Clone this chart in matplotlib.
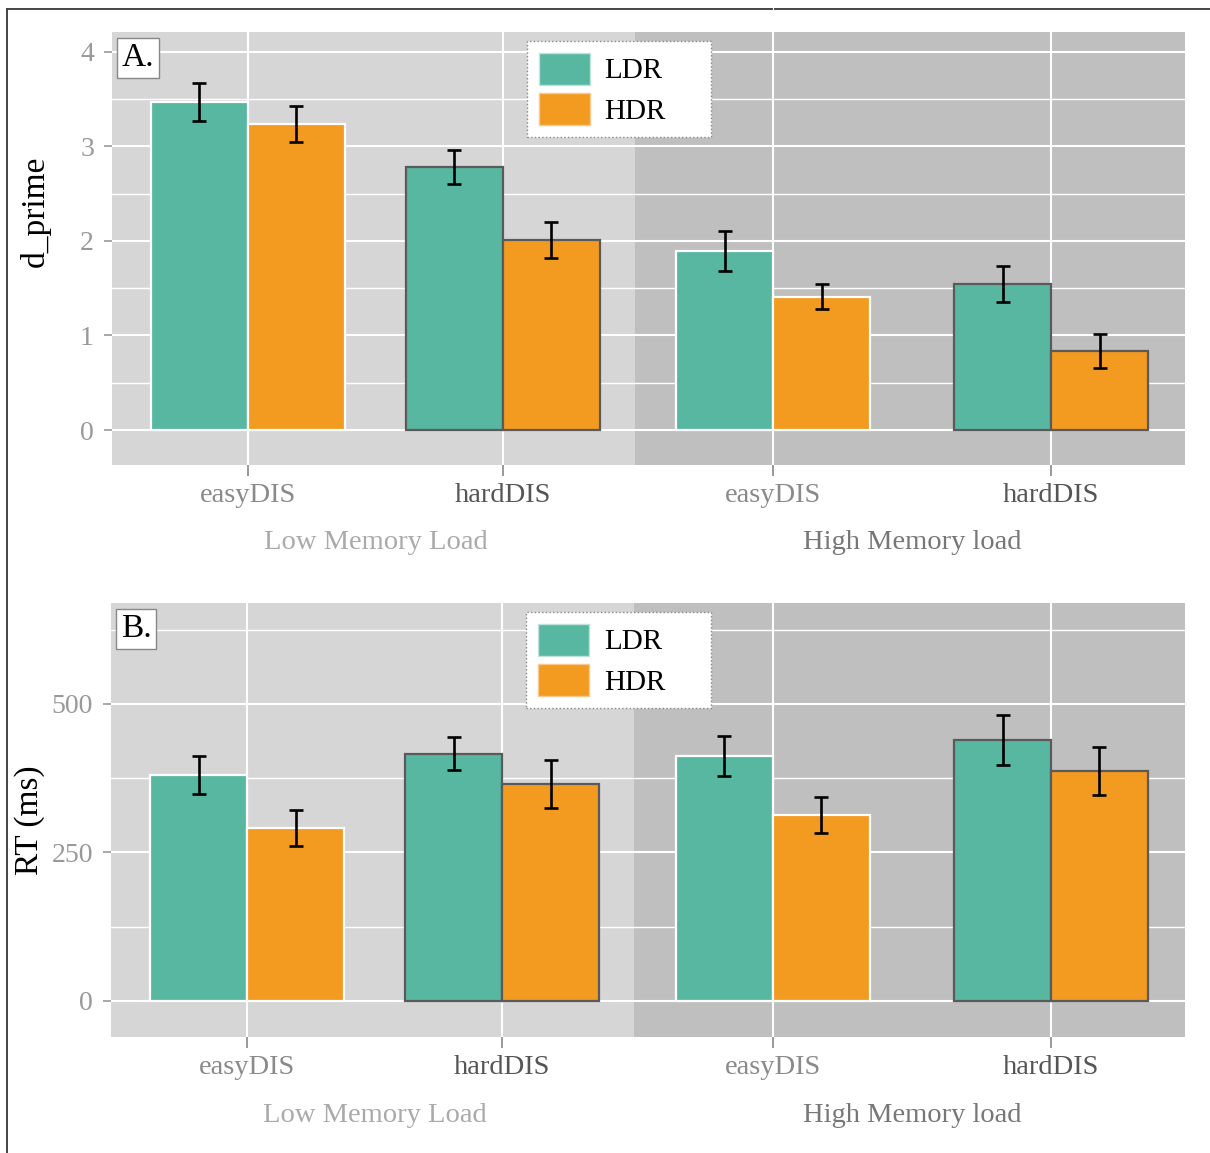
import numpy as np
import matplotlib
matplotlib.use("Agg")
import matplotlib.pyplot as plt
from matplotlib.lines import Line2D
from matplotlib.patches import Patch

plt.rcParams["font.family"] = ["Liberation Serif", "DejaVu Serif"]

# ---- data ----
conditions = ["easyDIS", "hardDIS", "easyDIS", "hardDIS"]
loads = ["Low Memory Load", "High Memory load"]
series = ["LDR", "HDR"]

dprime_ldr = [3.47, 2.78, 1.89, 1.54]
dprime_ldr_se = [0.20, 0.18, 0.21, 0.19]
dprime_hdr = [3.24, 2.01, 1.41, 0.84]
dprime_hdr_se = [0.19, 0.19, 0.13, 0.18]

rt_ldr = [380, 416, 412, 439]
rt_ldr_se = [32, 28, 34, 42]
rt_hdr = [291, 365, 313, 387]
rt_hdr_se = [30, 40, 30, 40]

# ---- styling / layout ----
C_LDR, C_HDR = "#58b7a1", "#f39a21"
BG_LIGHT, BG_DARK = "#d6d6d6", "#bfbfbf"
xpos = np.array([0.0, 1.0, 2.06, 3.15])
BW = 0.38
XLIM = (-0.533, 3.675)
SPLIT = 1.518
edge_cols = ["white", "#5a5a5a", "white", "#5a5a5a"]
tick_cols = ["#8a8a8a", "#555555", "#8a8a8a", "#555555"]
load_cols = ["#aaaaaa", "#777777"]

fig = plt.figure(figsize=(12.1, 11.53), dpi=100)
W, H = 1210, 1153


def panel(rect_px, ldr, ldr_se, hdr, hdr_se, ylim, ticks, minor, ylabel, lab_xy, tag):
    l, r, t, b = rect_px
    ax = fig.add_axes([l / W, (H - b) / H, (r - l) / W, (b - t) / H])
    ax.set_xlim(*XLIM)
    ax.set_ylim(*ylim)
    ax.axvspan(XLIM[0], SPLIT, color=BG_LIGHT, lw=0, zorder=0)
    ax.axvspan(SPLIT, XLIM[1], color=BG_DARK, lw=0, zorder=0)
    for v in ticks:
        ax.axhline(v, color="white", lw=1.5, zorder=0.5)
    for v in minor:
        ax.axhline(v, color="white", lw=1.0, zorder=0.5)
    for x in xpos:
        ax.axvline(x, color="white", lw=1.5, zorder=0.5)

    for i in range(4):
        ax.bar(xpos[i] - BW / 2, ldr[i], BW, color=C_LDR, edgecolor=edge_cols[i], lw=1.6, zorder=2)
        ax.bar(xpos[i] + BW / 2, hdr[i], BW, color=C_HDR, edgecolor=edge_cols[i], lw=1.6, zorder=2)
    ax.errorbar(xpos - BW / 2, ldr, yerr=ldr_se, fmt="none", ecolor="black", elinewidth=1.9,
                capsize=4.8, capthick=1.9, zorder=3)
    ax.errorbar(xpos + BW / 2, hdr, yerr=hdr_se, fmt="none", ecolor="black", elinewidth=1.9,
                capsize=4.8, capthick=1.9, zorder=3)

    for s in ax.spines.values():
        s.set_visible(False)
    ax.set_yticks(ticks)
    ax.set_yticklabels([str(v) for v in ticks])
    ax.tick_params(axis="y", colors="#999999", labelsize=20, length=6, width=1.2, pad=7)
    ax.set_xticks(xpos)
    ax.set_xticklabels(conditions)
    ax.tick_params(axis="x", colors="#888888", labelsize=20.5, length=8, width=1.2, pad=5)
    for lab, c in zip(ax.get_xticklabels(), tick_cols):
        lab.set_color(c)
    ax.set_ylabel(ylabel, fontsize=24, color="black")
    ax.yaxis.set_label_coords(*lab_xy)

    for k, name in enumerate(loads):
        xm = (xpos[2 * k] + xpos[2 * k + 1]) / 2
        ax.text(xm, -0.18, name, transform=ax.get_xaxis_transform(), ha="center", va="center",
                fontsize=20.5, color=load_cols[k])

    ax.text(0.009, 0.975, tag, transform=ax.transAxes, ha="left", va="top", fontsize=24,
            bbox=dict(boxstyle="square,pad=0.15", fc="white", ec="#888888", lw=1.0), zorder=5)

    handles = [Patch(facecolor=C_LDR, edgecolor="#bfe3da"), Patch(facecolor=C_HDR, edgecolor="#f8c98f")]
    leg = ax.legend(handles, series, loc="upper left", bbox_to_anchor=(0.3868, 0.0, 0.1715, 0.979),
                    mode="expand", fontsize=21, frameon=True, fancybox=False, borderaxespad=0,
                    borderpad=0.4, handlelength=1.75, handleheight=1.3, handletextpad=0.5,
                    labelspacing=0.3)
    fr = leg.get_frame()
    fr.set_facecolor("white")
    fr.set_alpha(1)
    fr.set_edgecolor("#888888")
    fr.set_linestyle(":")
    fr.set_linewidth(1.0)
    leg.set_zorder(6)
    return ax


panel((112, 1185, 32, 465), dprime_ldr, dprime_ldr_se, dprime_hdr, dprime_hdr_se,
      (-0.37, 4.21), [0, 1, 2, 3, 4], [0.5, 1.5, 2.5, 3.5], "d_prime", (-0.057, 0.587), "A.")
panel((111, 1185, 603, 1037), rt_ldr, rt_ldr_se, rt_hdr, rt_hdr_se,
      (-61, 670), [0, 250, 500], [125, 375, 625], "RT (ms)", (-0.0615, 0.5), "B.")

# outer frame fragments of the composite figure
fy = 1 - 9 / H
fig.add_artist(Line2D([7 / W, 7 / W], [0, fy], color="#444444", lw=1.4))
fig.add_artist(Line2D([7 / W, 772 / W], [fy, fy], color="#444444", lw=1.4))
fig.add_artist(Line2D([775 / W, 1], [fy, fy], color="#444444", lw=1.4))

fig.savefig("out.png", dpi=100)
